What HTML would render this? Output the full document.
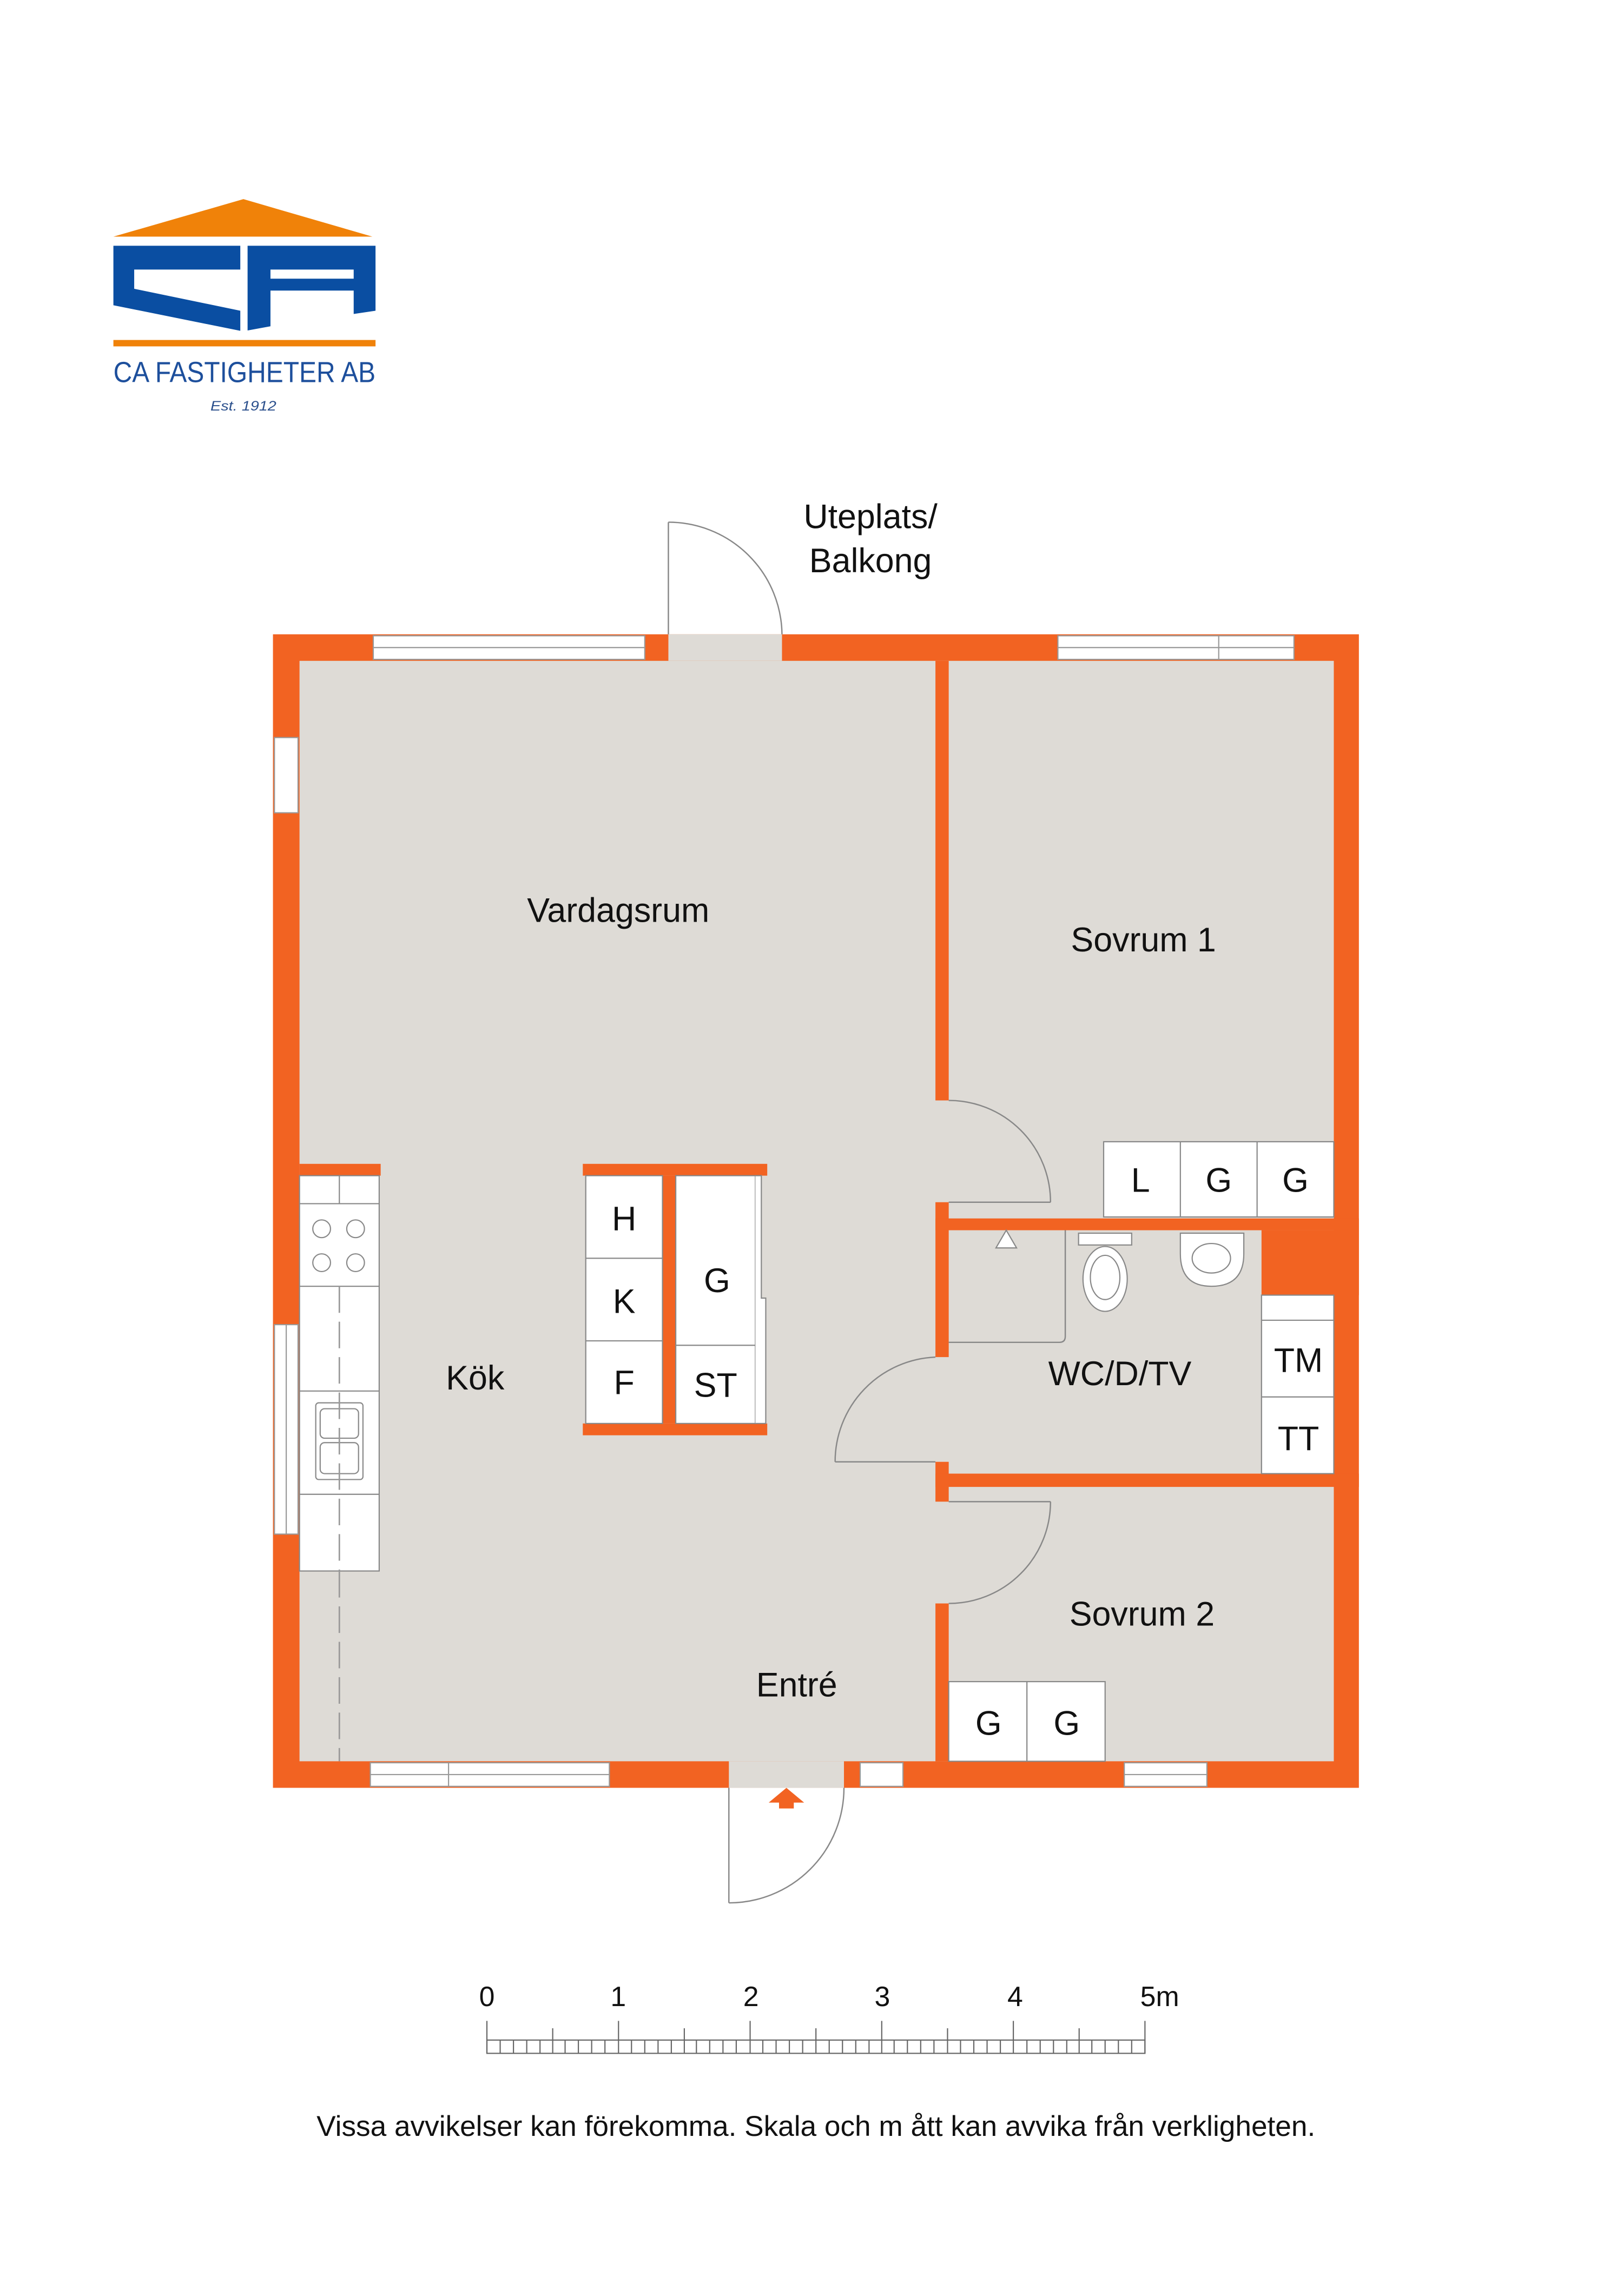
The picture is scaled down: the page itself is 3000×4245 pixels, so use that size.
<!DOCTYPE html>
<html><head><meta charset="utf-8"><style>html,body{margin:0;padding:0;background:#fff}svg{display:block}</style></head>
<body>
<svg width="3000" height="4245" viewBox="0 0 1100 1556.5" xmlns="http://www.w3.org/2000/svg" font-family="Liberation Sans, Arial, sans-serif">
<rect width="1100" height="1556.5" fill="#fff"/>
<!-- logo -->
<g transform="translate(55,116.4) scale(0.141,0.124)">
<polygon points="155,355 780,150 1400,355" fill="#f08209"/>
<polygon points="155,405 765,405 765,535 255,535 255,640 765,760 765,870 155,730" fill="#0a4ea2"/>
<path d="M800,405 L1415,405 L1415,760 L1310,778 L1310,650 L910,650 L910,845 L800,868 Z M910,535 L1310,535 L1310,585 L910,585 Z" fill="#0a4ea2" fill-rule="evenodd"/>
<rect x="155" y="920" width="1260" height="35" fill="#f08209"/>
<text x="155" y="1150" font-size="160" fill="#1d4f9c" textLength="1260" lengthAdjust="spacingAndGlyphs">CA FASTIGHETER AB</text>
<text x="780" y="1305" font-size="75" font-style="italic" fill="#2a4f8c" text-anchor="middle">Est. 1912</text>
</g>
<!-- outer walls -->
<rect x="185" y="430" width="736" height="782" fill="#f26322"/>
<rect x="203" y="448" width="701" height="746" fill="#dedbd6"/>
<g fill="#fff" stroke="#999" stroke-width="0.8">
<rect x="253" y="431" width="184" height="16"/>
<rect x="717" y="431" width="160" height="16"/><line x1="826" y1="431" x2="826" y2="447"/><line x1="717" y1="439" x2="877" y2="439"/>
<rect x="186" y="500" width="16" height="51"/>
<rect x="186" y="898" width="16" height="142"/><line x1="194" y1="898" x2="194" y2="1040"/>
<rect x="251" y="1195" width="162" height="16"/><line x1="304" y1="1195" x2="304" y2="1211"/><line x1="251" y1="1203" x2="413" y2="1203"/>
<rect x="583" y="1195" width="29" height="16"/>
<rect x="762" y="1195" width="56" height="16"/><line x1="762" y1="1203" x2="818" y2="1203"/>
<line x1="253" y1="439" x2="437" y2="439"/>
</g>
<!-- door openings -->
<rect x="453" y="430" width="77" height="18" fill="#dedbd6"/>
<rect x="494" y="1194" width="78" height="18" fill="#dedbd6"/>
<!-- interior walls -->
<g fill="#f26322">
<rect x="634" y="448" width="9" height="298"/>
<rect x="634" y="815" width="9" height="105"/>
<rect x="634" y="991" width="9" height="27"/>
<rect x="634" y="1087" width="9" height="107"/>
<rect x="634" y="826" width="287" height="8"/>
<rect x="855" y="834" width="66" height="44"/>
<rect x="634" y="999" width="287" height="9"/>
<rect x="203" y="789" width="55" height="8"/>
<rect x="395" y="789" width="125" height="8"/>
<rect x="395" y="965" width="125" height="8"/>
<rect x="449" y="797" width="9" height="168"/>
</g>
<!-- doors -->
<g fill="none" stroke="#888" stroke-width="0.9">
<line x1="453" y1="430" x2="453" y2="354"/><path d="M453,354 A77,77 0 0 1 530,430"/>
<line x1="643" y1="815" x2="712" y2="815"/><path d="M643,746 A69,69 0 0 1 712,815"/>
<line x1="566" y1="991" x2="634" y2="991"/><path d="M566,991 A71,71 0 0 1 634,920"/>
<line x1="643" y1="1018" x2="712" y2="1018"/><path d="M712,1018 A69,69 0 0 1 643,1087"/>
<line x1="494" y1="1212" x2="494" y2="1290"/><path d="M494,1290 A78,78 0 0 0 572,1212"/>
<path d="M722,834 V906 Q722,910 718,910 H643"/>
</g>
<polygon points="533,1212 521,1222 528,1222 528,1226 538,1226 538,1222 545,1222" fill="#f26322"/>
<!-- cabinets -->
<g fill="#fff" stroke="#888" stroke-width="0.8">
<rect x="748" y="774" width="156" height="51"/><line x1="800" y1="774" x2="800" y2="825"/><line x1="852" y1="774" x2="852" y2="825"/>
<rect x="855" y="878" width="49" height="121"/><line x1="855" y1="895" x2="904" y2="895"/><line x1="855" y1="947" x2="904" y2="947"/>
<rect x="643" y="1140" width="106" height="54"/><line x1="696" y1="1140" x2="696" y2="1194"/>
<rect x="397" y="797" width="52" height="168"/><line x1="397" y1="853" x2="449" y2="853"/><line x1="397" y1="909" x2="449" y2="909"/>
<rect x="458" y="797" width="54" height="168"/><line x1="458" y1="912" x2="512" y2="912"/>
<path d="M512,797 H516 V880 H519 V965 H512" />
<rect x="203" y="797" width="54" height="268"/><line x1="203" y1="816" x2="257" y2="816"/><line x1="230" y1="797" x2="230" y2="816"/><line x1="203" y1="872" x2="257" y2="872"/><line x1="203" y1="943" x2="257" y2="943"/><line x1="203" y1="1013" x2="257" y2="1013"/>
<circle cx="218" cy="833" r="6"/><circle cx="241" cy="833" r="6"/><circle cx="218" cy="856" r="6"/><circle cx="241" cy="856" r="6"/>
<rect x="214" y="951" width="32" height="52" rx="2"/><rect x="217" y="955" width="26" height="20" rx="3"/><rect x="217" y="978" width="26" height="21" rx="3"/>
<rect x="731" y="836" width="36" height="8"/><ellipse cx="749" cy="867" rx="15" ry="22"/><ellipse cx="749" cy="866" rx="10" ry="15"/>
<path d="M800,836 H843 V850 Q843,872 821,872 Q800,872 800,850 Z"/><ellipse cx="821" cy="853" rx="13" ry="10"/>
</g>
<polygon points="682,834 675,846 689,846" fill="#fff" stroke="#888" stroke-width="0.8"/>
<line x1="230" y1="1065" x2="230" y2="1194" stroke="#999" stroke-width="1" stroke-dasharray="18,6"/>
<line x1="230" y1="872" x2="230" y2="1065" stroke="#999" stroke-width="1" stroke-dasharray="18,6"/>
<!-- labels -->
<g font-size="23" fill="#111" text-anchor="middle">
<text x="590" y="358">Uteplats/</text><text x="590" y="388">Balkong</text>
<text x="419" y="625">Vardagsrum</text>
<text x="775" y="645">Sovrum 1</text>
<text x="322" y="942">Kök</text>
<text x="759" y="939">WC/D/TV</text>
<text x="774" y="1102">Sovrum 2</text>
<text x="540" y="1150">Entré</text>
<text x="423" y="834">H</text><text x="423" y="890">K</text><text x="423" y="945">F</text>
<text x="486" y="876">G</text><text x="485" y="947">ST</text>
<text x="773" y="808">L</text><text x="826" y="808">G</text><text x="878" y="808">G</text>
<text x="880" y="930">TM</text><text x="880" y="983">TT</text>
<text x="670" y="1176">G</text><text x="723" y="1176">G</text>
</g>
<!-- scale -->
<g font-size="19" fill="#111" text-anchor="middle">
<text x="330" y="1360">0</text><text x="419" y="1360">1</text><text x="509" y="1360">2</text><text x="598" y="1360">3</text><text x="688" y="1360">4</text><text x="786" y="1360">5m</text>
</g>
<g stroke="#666" stroke-width="0.8" fill="none">
<rect x="330" y="1383" width="446" height="9"/>
<path d="M330,1370V1392M374.6,1375V1392M419.2,1370V1392M463.8,1375V1392M508.4,1370V1392M553,1375V1392M597.6,1370V1392M642.2,1375V1392M686.8,1370V1392M731.4,1375V1392M776,1370V1392"/>
<path d="M339,1383V1392M348,1383V1392M357,1383V1392M366,1383V1392M383,1383V1392M392,1383V1392M401,1383V1392M410,1383V1392M428,1383V1392M437,1383V1392M446,1383V1392M455,1383V1392M472,1383V1392M481,1383V1392M490,1383V1392M499,1383V1392M517,1383V1392M526,1383V1392M535,1383V1392M544,1383V1392M562,1383V1392M571,1383V1392M580,1383V1392M589,1383V1392M606,1383V1392M615,1383V1392M624,1383V1392M633,1383V1392M651,1383V1392M660,1383V1392M669,1383V1392M678,1383V1392M696,1383V1392M705,1383V1392M714,1383V1392M723,1383V1392M740,1383V1392M749,1383V1392M758,1383V1392M767,1383V1392"/>
</g>
<text x="553" y="1448" font-size="19.5" fill="#111" text-anchor="middle">Vissa avvikelser kan förekomma. Skala och m ått kan avvika från verkligheten.</text>
</svg>
</body></html>
